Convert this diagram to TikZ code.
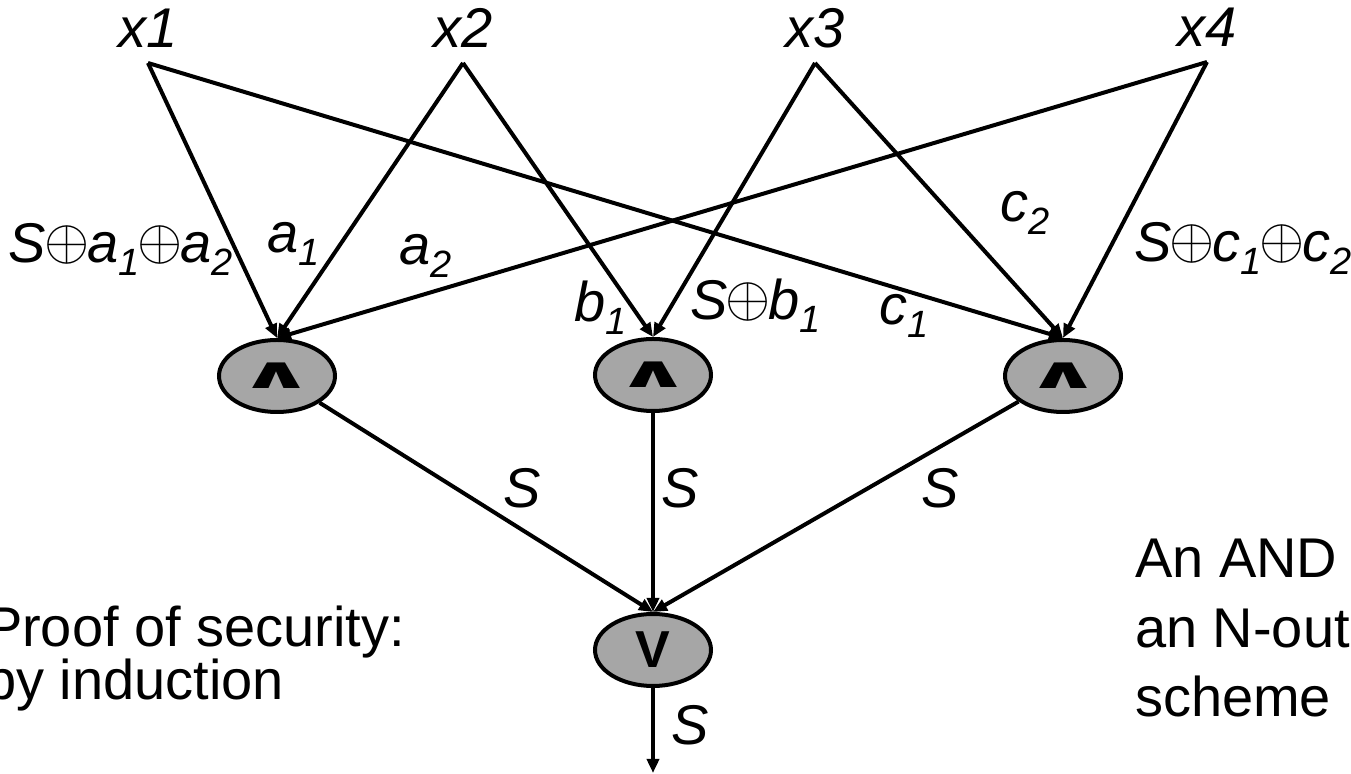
\documentclass[tikz,border=0pt]{standalone}
\usepackage{fontspec}
\usepackage{graphicx}
\setmainfont{Liberation Sans}
\newfontfamily\gatefont{DejaVu Sans}
\usetikzlibrary{shapes.geometric,arrows.meta}

\newcommand{\xor}{\kern-1pt\raisebox{1.5pt}{\scalebox{2.9}{\fontsize{10}{10}\selectfont$\oplus$}}\kern-1pt}
\newcommand{\lsub}[1]{\raisebox{-6.5pt}{\fontsize{19}{19}\selectfont #1}}
\newcommand{\andsym}{{\gatefont\bfseries\scalebox{1.8}[0.85]{∧}}}

\begin{document}
\begin{tikzpicture}[x=0.5pt,y=-0.5pt,line width=2pt,
    >={Triangle[length=7pt,width=6pt]},
    gate/.style={ellipse,draw,fill=black!35,minimum width=58pt,minimum height=36pt,
      inner sep=0pt,font=\fontsize{26}{26}\selectfont\bfseries},
    input/.style={anchor=south,inner sep=0pt,inner ysep=6.5pt,
      font=\fontsize{28}{28}\selectfont\itshape},
    lbl/.style={anchor=base west,inner sep=0pt,font=\fontsize{28}{28}\selectfont\itshape},
    sig/.style={anchor=base,inner sep=0pt,font=\fontsize{28}{28}\selectfont\itshape},
    note/.style={anchor=base west,inner sep=0pt,font=\fontsize{28}{28}\selectfont}]
    \useasboundingbox (0,0) rectangle (1351,774);

    \node[input] (x1) at (148,63) {x1};
    \node[input] (x2) at (463,63) {x2};
    \node[input] (x3) at (815,63) {x3};
    \node[input] (x4) at (1207,62) {x4};

    \node[gate] (andL) at (277,376) {\andsym};
    \node[gate] (andM) at (653,375) {\andsym};
    \node[gate] (andR) at (1063,376) {\andsym};
    \node[gate] (orV) at (653,650) {V};
    \coordinate (out) at (653,773);

    \draw[->] (x1.south) -- (andL.north);
    \draw[->] (x1.south) -- (andR.north);
    \draw[->] (x2.south) -- (andL.north);
    \draw[->] (x2.south) -- (andM.north);
    \draw[->] (x3.south) -- (andM.north);
    \draw[->] (x3.south) -- (andR.north);
    \draw[->] (x4.south) -- (andL.north);
    \draw[->] (x4.south) -- (andR.north);

    \draw[->] (andL) -- (orV.north);
    \draw[->] (andM) -- (orV.north);
    \draw[->] (andR) -- (orV.north);
    \draw[->] (orV) -- (out);

    \node[lbl] (sa) at (7,263) {S\xor a\lsub{1}\xor a\lsub{2}};
    \node[lbl] (a1) at (265,253) {a\lsub{1}};
    \node[lbl] (a2) at (397,265) {a\lsub{2}};
    \node[lbl] (b1) at (572,322) {b\lsub{1}};
    \node[lbl] (sb) at (688,320) {S\xor b\lsub{1}};
    \node[lbl] (c1) at (877,325) {c\lsub{1}};
    \node[lbl] (c2) at (998,222) {c\lsub{2}};
    \node[lbl] (sc) at (1132,262) {S\xor c\lsub{1}\xor c\lsub{2}};

    \node[sig] (sL) at (522,508) {S};
    \node[sig] (sM) at (680,508) {S};
    \node[sig] (sR) at (940,508) {S};
    \node[sig] (sO) at (690,745) {S};

    \node[note] (proof1) at (-17,647) {Proof of security:};
    \node[note] (proof2) at (-17,700) {by induction};
    \node[note] (gate1) at (1133,578) {An AND gate in};
    \node[note] (gate2) at (1133,648) {an N-out-of-N};
    \node[note] (gate3) at (1133,717) {scheme};
\end{tikzpicture}
\end{document}
